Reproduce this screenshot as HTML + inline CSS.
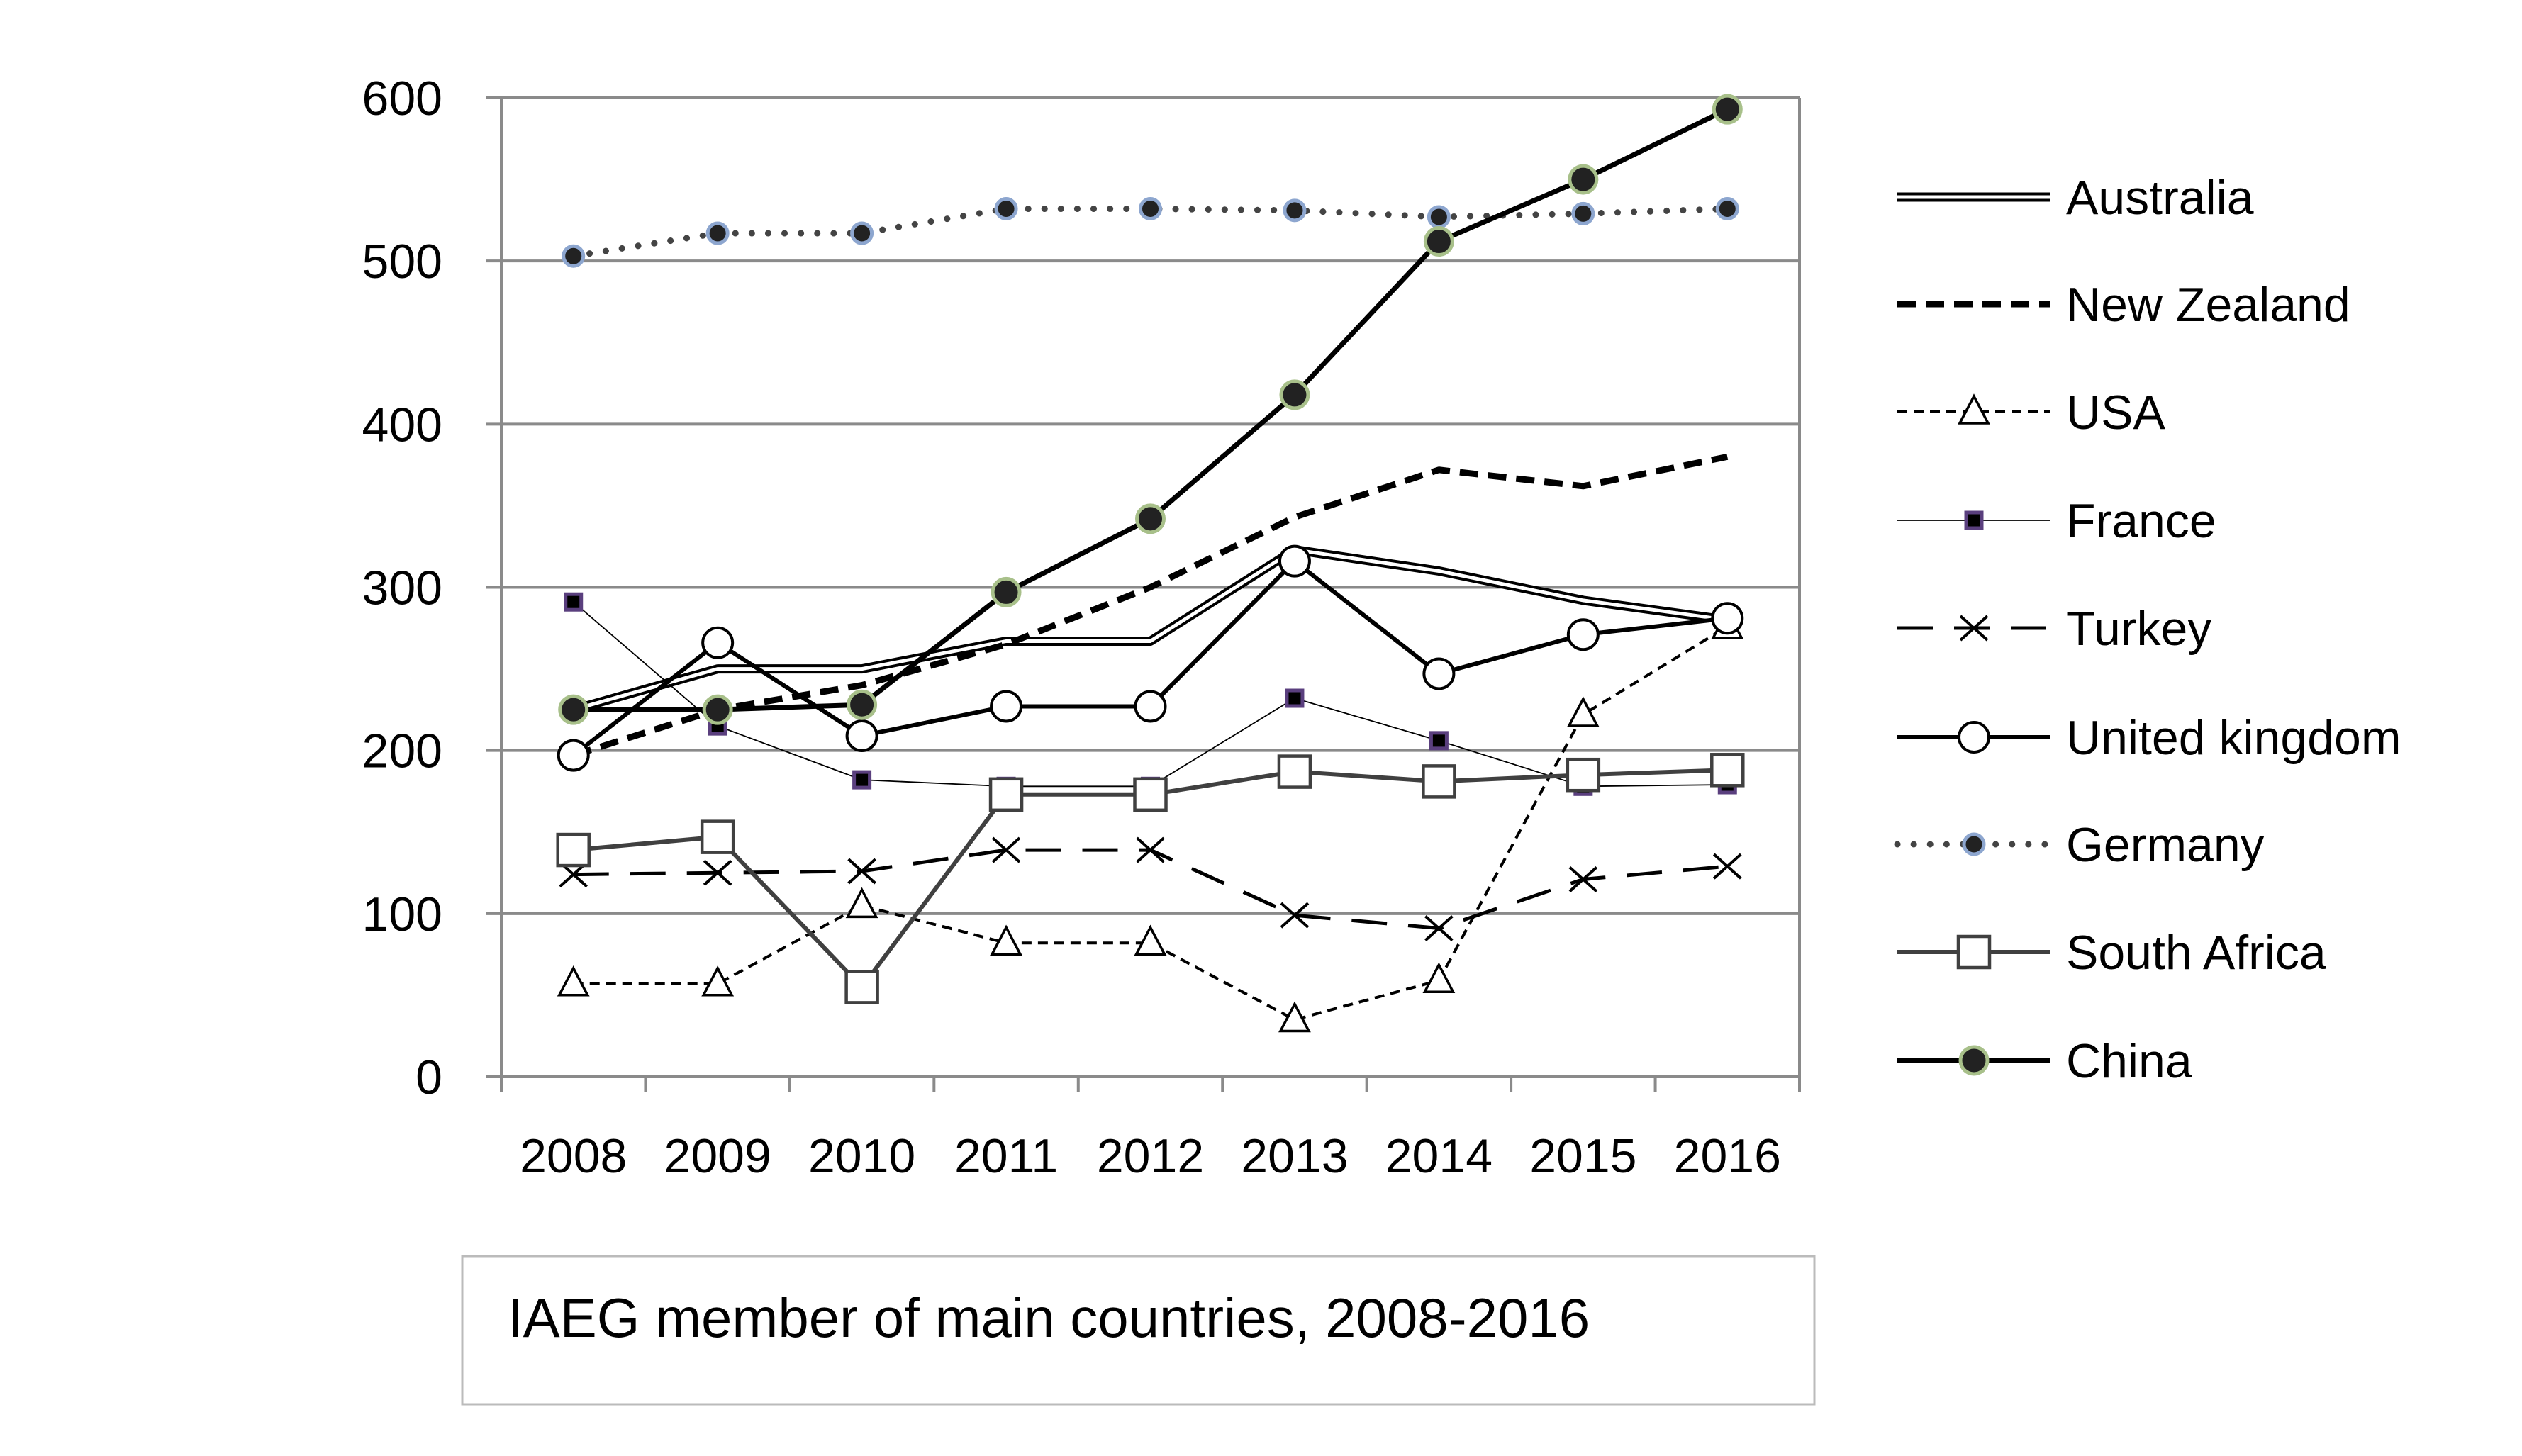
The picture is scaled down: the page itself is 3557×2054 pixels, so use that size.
<!DOCTYPE html>
<html><head><meta charset="utf-8"><style>
html,body{margin:0;padding:0;background:#fff}
svg text{font-family:"Liberation Sans",sans-serif}
</style></head><body>
<svg id="chart" width="3557" height="2049" xmlns="http://www.w3.org/2000/svg">
<g id="grid"></g><g id="series"></g><g id="legend"></g>
<rect x="652" y="1772" width="1907" height="209" fill="#fff" stroke="#bbb" stroke-width="3"/>
<text x="716" y="1886" font-size="78" fill="#000">IAEG member of main countries, 2008-2016</text>
</svg>
<script>
const categories=["2008","2009","2010","2011","2012","2013","2014","2015","2016"];
const yTicks=[0,100,200,300,400,500,600];
const australia=[225,250,250,267,267,323,310,292,280];
const newZealand=[197,225,240,265,300,343,372,362,380];
const usa=[57,57,105,82,82,35,59,222,276];
const france=[291,215,182,178,178,232,206,178,179];
const turkey=[124,125,126,139,139,99,91,121,129];
const uk=[197,266,209,227,227,316,247,271,281];
const germany=[503,517,517,532,532,531,527,529,532];
const southAfrica=[139,147,55,173,173,187,181,185,188];
const china=[225,225,228,297,342,418,512,550,593];

const NS="http://www.w3.org/2000/svg";
const X0=707,X1=2538,Y0=1519,Y1=138,YMAX=600;
const slot=(X1-X0)/categories.length;
const xs=i=>X0+slot*(i+0.5);
const ys=v=>Y0-(v/YMAX)*(Y0-Y1);
function mk(tag,attrs,parent){const e=document.createElementNS(NS,tag);for(const k in attrs)e.setAttribute(k,attrs[k]);parent.appendChild(e);return e;}
const grid=document.getElementById('grid'),ser=document.getElementById('series'),leg=document.getElementById('legend');

yTicks.forEach(t=>{
  const l=mk('line',{x1:X0-22,x2:X1,y1:ys(t),y2:ys(t),stroke:'#8a8a8a','stroke-width':4},grid);
  
  
  const tx=mk('text',{x:624,y:ys(t)+24,'text-anchor':'end','font-size':68},grid);
  tx.textContent=t;
  
  
});
const frameV=[X0,X1];
frameV.forEach(x=>{const l=mk('line',{x1:x,x2:x,y1:Y1,y2:Y0,stroke:'#8a8a8a','stroke-width':4},grid);

});
for(let i=0;i<=categories.length;i++){
  const x=X0+slot*i;
  const l=mk('line',{x1:x,x2:x,y1:Y0,y2:Y0+22,stroke:'#8a8a8a','stroke-width':4},grid);
  
  
}
categories.forEach((c,i)=>{
  const t=mk('text',{x:xs(i),y:1654,'text-anchor':'middle','font-size':68},grid);
  t.textContent=c;
  
  
});

function pts(a){return a.map((v,i)=>xs(i)+','+ys(v)).join(' ');}
function marker(type,x,y,g){
  if(type==='tri') mk('polygon',{points:`${x},${y-22} ${x-20},${y+16} ${x+20},${y+16}`,fill:'#fff',stroke:'#000','stroke-width':3.5},g);
  if(type==='sq') {mk('rect',{x:x-11,y:y-11,width:22,height:22,fill:'#000',stroke:'#5a3f7e','stroke-width':5},g);}
  if(type==='x'){mk('path',{d:`M${x-19},${y-17}L${x+19},${y+17}M${x-19},${y+17}L${x+19},${y-17}`,stroke:'#000','stroke-width':4},g);}
  if(type==='circ') mk('circle',{cx:x,cy:y,r:21,fill:'#fff',stroke:'#000','stroke-width':4},g);
  if(type==='ger') mk('circle',{cx:x,cy:y,r:14,fill:'#222',stroke:'#8da6cf','stroke-width':5},g);
  if(type==='box') mk('rect',{x:x-22,y:y-22,width:44,height:44,fill:'#fff',stroke:'#404040','stroke-width':4.5},g);
  if(type==='china') mk('circle',{cx:x,cy:y,r:19,fill:'#222',stroke:'#a8c08a','stroke-width':5},g);
}
const defs=[
 ['australia','Australia',australia,{stroke:'#000',w:13,inner:'#fff',iw:5},null],
 ['new-zealand','New Zealand',newZealand,{stroke:'#000',w:9,dash:'26 14'},null],
 ['usa','USA',usa,{stroke:'#000',w:4,dash:'14 9'},'tri'],
 ['france','France',france,{stroke:'#000',w:1.8},'sq'],
 ['turkey','Turkey',turkey,{stroke:'#000',w:5,dash:'50 30'},'x'],
 ['united-kingdom','United kingdom',uk,{stroke:'#000',w:6},'circ'],
 ['germany','Germany',germany,{stroke:'#444',w:9,dash:'0.1 23',cap:'round'},'ger'],
 ['south-africa','South Africa',southAfrica,{stroke:'#404040',w:6},'box'],
 ['china','China',china,{stroke:'#000',w:7},'china']
];
const legY=[278,429,581,734,886,1040,1191,1343,1496];
defs.forEach((d,k)=>{
  const [id,name,data,st,mt]=d;
  const g=mk('g',{},ser);
  
  
  const line=mk('polyline',{points:pts(data),fill:'none',stroke:st.stroke,'stroke-width':st.w,'stroke-linejoin':'round','stroke-linecap':st.cap||'butt'},g);
  if(st.dash) line.setAttribute('stroke-dasharray',st.dash);
  if(st.inner) mk('polyline',{points:pts(data),fill:'none',stroke:st.inner,'stroke-width':st.iw},g);
  if(mt) data.forEach((v,i)=>marker(mt,xs(i),ys(v),g));
  const lg=mk('g',{},leg);
  
  
  const y=legY[k];
  const ll=mk('line',{x1:2676,x2:2892,y1:y,y2:y,stroke:st.stroke,'stroke-width':st.w,'stroke-linecap':st.cap||'butt'},lg);
  if(st.dash) ll.setAttribute('stroke-dasharray',st.dash);
  if(st.inner) mk('line',{x1:2676,x2:2892,y1:y,y2:y,stroke:st.inner,'stroke-width':st.iw},lg);
  if(mt) marker(mt,2784,y,lg);
  const t=mk('text',{x:2914,y:y+24,'font-size':68},lg);
  t.textContent=name;
});
</script>
</body></html>
